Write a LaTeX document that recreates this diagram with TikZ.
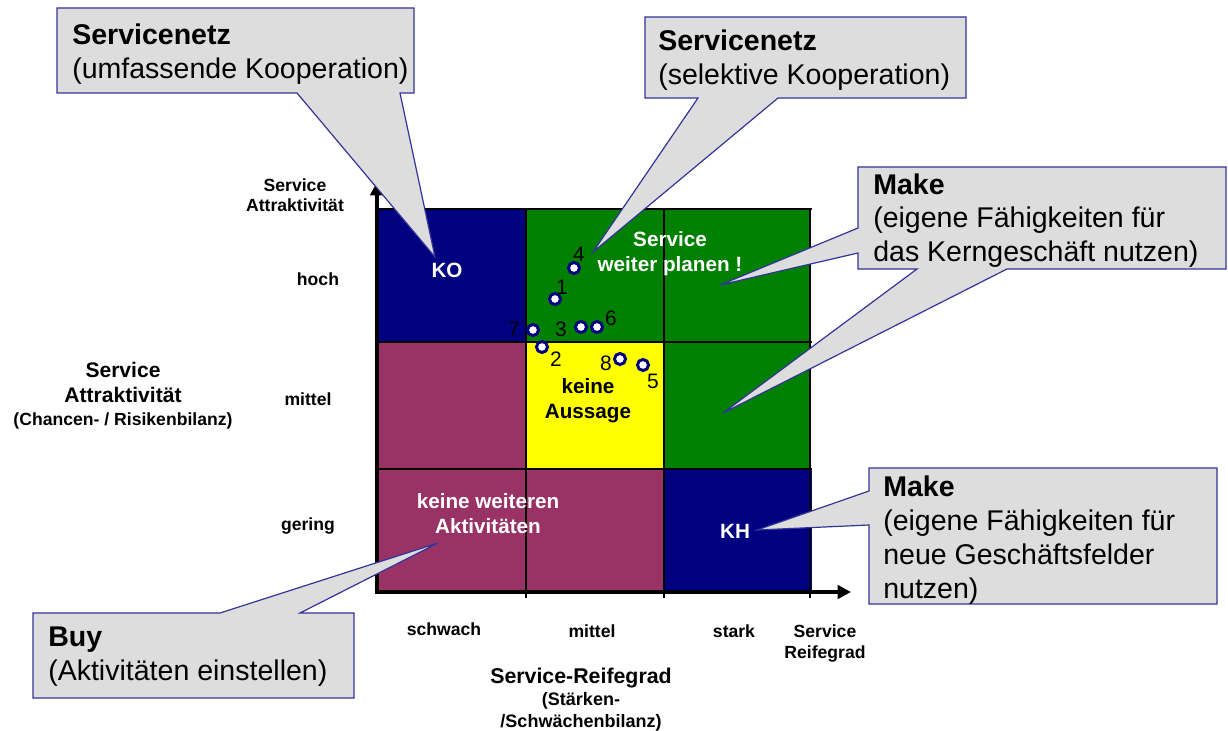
\documentclass[tikz,border=0pt]{standalone}
\usepackage{fontspec}
\setmainfont{Liberation Sans}
\usepackage{tikz}
\usetikzlibrary{arrows.meta}

\definecolor{dunkelblau}{HTML}{000080}
\definecolor{gruen}{HTML}{008000}
\definecolor{weinrot}{HTML}{993366}
\definecolor{gelb}{HTML}{FFFF00}
\definecolor{blasengrau}{HTML}{DDDDDD}
\definecolor{blasenrand}{HTML}{333399}

\tikzset{
	gitter/.style={line width=2.2pt},
	achse/.style={line width=3pt,{Triangle[length=10pt,width=10pt]}-{Triangle[length=10pt,width=10pt]}},
	blase/.style={fill=blasengrau,draw=blasenrand,line width=0.9pt},
	blasentext/.style={anchor=base west,align=left,inner sep=0pt,font=\fontsize{21.4}{25.5}\selectfont},
	zelltext/.style={anchor=base,align=center,inner sep=0pt,text=white,font=\bfseries\fontsize{15.5}{18.75}\selectfont},
	achstext/.style={anchor=base,align=center,inner sep=0pt,font=\bfseries\fontsize{13.2}{15.5}\selectfont},
	punkt/.style={circle,draw=dunkelblau,fill=white,line width=2.2pt,minimum size=8.3pt,inner sep=0pt},
	nummer/.style={inner sep=0pt,font=\fontsize{15.7}{16}\selectfont}
}

\begin{document}
\begin{tikzpicture}[x=0.75pt,y=-0.75pt]
	\useasboundingbox (0,0) rectangle (1228,731);
	% Felder der Matrix
	\fill[dunkelblau] (377,209) rectangle (526,342);
	\fill[gruen] (526,209) rectangle (810,469);
	\fill[weinrot] (377,342) rectangle (526,469);
	\fill[gelb] (526,342) rectangle (664,469);
	\fill[weinrot] (377,469) rectangle (664,592);
	\fill[dunkelblau] (664,469) rectangle (812,592);
	\foreach \gx in {526,664,810}
		{\draw[gitter] (\gx,209) -- (\gx,598);};
	\foreach \gy in {209,342,469}
		{\draw[gitter] (375,\gy) -- (812,\gy);};
	\draw[achse] (377,182) -- (377,592) -- (851,592);

	% (mehrzeilige Texte: Position = Grundlinie der letzten Zeile)
	\node[zelltext] (ko) at (447,277) {KO};
	\node[zelltext] (planen) at (670,272) {Service\\weiter planen !};
	\node[zelltext,text=black] (aussage) at (588,418) {keine\\Aussage};
	\node[zelltext] (weitere) at (488,533) {keine weiteren\\Aktivitäten};
	\node[zelltext] (kh) at (735,538) {KH};

	% Bewertete Services
	\foreach \n/\px/\py/\lx/\ly in {1/555/299/562/287, 2/542/347/556/359, 3/581/327/561/329, 4/574/268/579/254, 5/643/365/653/381, 6/597/327/611/318, 7/533/330/514/329, 8/620/359/606/363}
		{\node[punkt] (p\n) at (\px,\py) {};
		\node[nummer] (n\n) at (\lx,\ly) {\n};};

	% Sprechblasen
	\coordinate (spitzeKO) at (435,257);
	\coordinate (spitzeNetz) at (593,252);
	\coordinate (spitzePlanen) at (720,285);
	\coordinate (spitzeMitte) at (723,413);
	\coordinate (spitzeKH) at (757,530);
	\coordinate (spitzeBuy) at (438,543);
	\draw[blase] (57,8) -- (414,8) -- (414,93) -- (400,93) -- (spitzeKO) -- (297,93) -- (57,93) -- cycle;
	\draw[blase] (645,17) -- (966,17) -- (966,98) -- (778,98) -- (spitzeNetz) -- (698,98) -- (645,98) -- cycle;
	\draw[blase] (858,167) -- (1226,167) -- (1226,269) -- (1007,269) -- (spitzeMitte) -- (917,269) -- (858,269) -- (858,253) -- (spitzePlanen) -- (858,228) -- cycle;
	\draw[blase] (869,468) -- (1217,468) -- (1217,604) -- (869,604) -- (869,525) -- (spitzeKH) -- (869,491) -- cycle;
	\draw[blase] (33,613) -- (220,613) -- (spitzeBuy) -- (300,613) -- (354,613) -- (354,698) -- (33,698) -- cycle;
	\node[blasentext] (netzUmf) at (72,79) {\textbf{Servicenetz}\\(umfassende Kooperation)};
	\node[blasentext] (netzSel) at (658,85) {\textbf{Servicenetz}\\(selektive Kooperation)};
	\node[blasentext] (makeKern) at (873,262) {\textbf{Make}\\(eigene Fähigkeiten für\\das Kerngeschäft nutzen)};
	\node[blasentext] (makeNeu) at (883,598) {\textbf{Make}\\(eigene Fähigkeiten für\\neue Geschäftsfelder\\nutzen)};
	\node[blasentext] (buy) at (48,680) {\textbf{Buy}\\(Aktivitäten einstellen)};

	% Achsenbeschriftung
	\node[achstext] (yname) at (295,212) {Service\\Attraktivität};
	\node[achstext] (hoch) at (318,285) {hoch};
	\node[achstext] (ymittel) at (308,405) {mittel};
	\node[achstext] (gering) at (308,530) {gering};
	\node[achstext,font=\bfseries\fontsize{15.8}{18.75}\selectfont] (ytitel) at (123,402) {Service\\Attraktivität};
	\node[achstext] (ybilanz) at (123,425) {(Chancen- / Risikenbilanz)};
	\node[achstext] (schwach) at (444,635) {schwach};
	\node[achstext] (xmittel) at (592,637) {mittel};
	\node[achstext] (stark) at (734,637) {stark};
	\node[achstext] (xname) at (825,658) {Service\\Reifegrad};
	\node[achstext,font=\bfseries\fontsize{16}{18}\selectfont] (xtitel) at (581,683) {Service-Reifegrad};
	\node[achstext,font=\bfseries\fontsize{13.5}{16.5}\selectfont] (xbilanz) at (581,727) {(Stärken-\\/Schwächenbilanz)};
\end{tikzpicture}
\end{document}
